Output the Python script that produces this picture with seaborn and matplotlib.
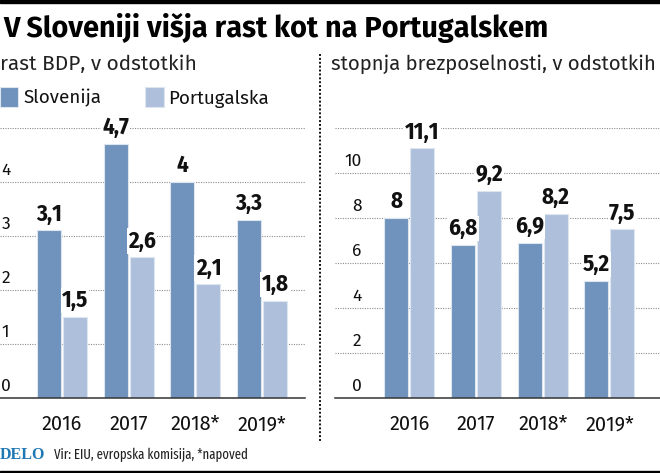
import logging
import matplotlib
matplotlib.use("Agg")
import matplotlib.pyplot as plt
from matplotlib.lines import Line2D
from matplotlib.patches import Rectangle, Patch
from matplotlib.transforms import ScaledTranslation
import pandas as pd
import seaborn as sns

logging.getLogger("matplotlib.font_manager").setLevel(logging.ERROR)

years = ["2016", "2017", "2018*", "2019*"]
countries = ["Slovenija", "Portugalska"]
gdp_slo = [3.1, 4.7, 4.0, 3.3]
gdp_por = [1.5, 2.6, 2.1, 1.8]
une_slo = [8.0, 6.8, 6.9, 5.2]
une_por = [11.1, 9.2, 8.2, 7.5]
gdp_lab_slo = ["3,1", "4,7", "4", "3,3"]
gdp_lab_por = ["1,5", "2,6", "2,1", "1,8"]
une_lab_slo = ["8", "6,8", "6,9", "5,2"]
une_lab_por = ["11,1", "9,2", "8,2", "7,5"]
title = "V Sloveniji višja rast kot na Portugalskem"
sub_left = "rast BDP, v odstotkih"
sub_right = "stopnja brezposelnosti, v odstotkih"
source = "Vir: EIU, evropska komisija, *napoved"
brand = "DELO"
gdp_ticks = [0, 1, 2, 3, 4, 5]
une_ticks = [0, 2, 4, 6, 8, 10, 12]

DARK, LIGHT, EDGE = "#6F93BC", "#ADBFDA", "#DCE5F0"
W, H = 660, 473
sns.set_theme(style="white")
BASE = ["Fira Sans", "Noto Sans", "DejaVu Sans"]
NARROW = ["Fira Sans Condensed", "Liberation Sans Narrow", "Noto Sans", "DejaVu Sans"]
XNARROW = ["Fira Sans Extra Condensed", "Fira Sans Condensed", "Noto Sans", "DejaVu Sans"]
plt.rcParams["font.family"] = BASE

fig = plt.figure(figsize=(W / 100, H / 100), dpi=100, facecolor="white")


def make_axes(x0, x1, top):
    return fig.add_axes([x0 / W, 1 - 398 / H, (x1 - x0) / W, (398 - top) / H])


def panel(ax, slo, por, lab_slo, lab_por, ticks, first_center, width_px, right_pad):
    df = pd.DataFrame({
        "year": years * 2,
        "country": [countries[0]] * 4 + [countries[1]] * 4,
        "value": list(slo) + list(por),
    })
    sns.barplot(data=df, x="year", y="value", hue="country", order=years,
                hue_order=countries, palette=[DARK, LIGHT], width=0.78, gap=0.08,
                saturation=1, edgecolor=EDGE, linewidth=0.8, ax=ax, legend=False, zorder=3)
    unit = 66.7
    ax.set_xlim(-first_center / unit, (width_px - first_center) / unit)
    ax.set_ylim(ticks[0], ticks[-1])
    ax.set_xlabel("")
    ax.set_ylabel("")
    sns.despine(ax=ax, left=True, top=True, right=True)
    ax.spines["bottom"].set_color("#333333")
    ax.spines["bottom"].set_linewidth(1.1)
    ax.spines["bottom"].set_zorder(5)
    ax.set_axisbelow(True)
    ax.yaxis.grid(True, color="#8c8c8c", linestyle=(0, (1, 1.2)), linewidth=0.8, zorder=0)
    ax.xaxis.grid(False)
    ax.set_yticks(ticks)
    ax.set_yticklabels([str(t) for t in ticks[:-1]] + [""])
    ax.tick_params(axis="x", length=0, pad=12, labelsize=14.3, labelcolor="#111111")
    ax.tick_params(axis="y", length=0, pad=-right_pad, labelsize=12.5, labelcolor="#111111")
    off = ScaledTranslation(0, 7 / 100, fig.dpi_scale_trans)
    for lab in ax.get_yticklabels():
        lab.set_ha("right" if right_pad > 5 else "left")
        lab.set_va("baseline")
        lab.set_transform(lab.get_transform() + off)
    for cont, labels in zip(ax.containers, (lab_slo, lab_por)):
        texts = ax.bar_label(cont, labels=labels, padding=3.5, fontsize=16.5, fontweight="bold",
                             family=NARROW, color="#111111", zorder=4)
        for t in texts:
            t.set_bbox(dict(facecolor="white", edgecolor="none", pad=0.8))


ax1 = make_axes(0, 305, 127.7)
panel(ax1, gdp_slo, gdp_por, gdp_lab_slo, gdp_lab_por, gdp_ticks, 62, 305, 1)
ax2 = make_axes(335, 660, 128)
panel(ax2, une_slo, une_por, une_lab_slo, une_lab_por, une_ticks, 74.3, 325, 19)

px = lambda x, y: (x / W, 1 - y / H)
fig.add_artist(Rectangle((0, 1 - 3 / H), 1, 3 / H, transform=fig.transFigure, color="black"))
fig.add_artist(Rectangle((0, 0), 1, 2 / H, transform=fig.transFigure, color="black"))
fig.add_artist(Line2D([320 / W, 320 / W], [1 - 54 / H, 1 - 441 / H], transform=fig.transFigure,
                      color="#111111", linestyle=(0, (1, 1)), linewidth=1.4))

fig.text(*px(3, 37), title, fontsize=20.8, fontweight="bold", color="#000000", va="baseline")
fig.text(*px(0, 70), sub_left, fontsize=15, color="#222222", va="baseline")
fig.text(*px(331, 70), sub_right, fontsize=14.7, color="#222222", va="baseline")
fig.text(*px(0, 459), brand, fontsize=11.5, fontweight="bold", family=["Liberation Serif"],
         color="#1F78B4", va="baseline")
fig.text(*px(54, 459), source, fontsize=10, family=XNARROW, color="#222222", va="baseline")

handles = [Patch(facecolor=DARK, edgecolor=EDGE, linewidth=0.8),
           Patch(facecolor=LIGHT, edgecolor=EDGE, linewidth=0.8)]
fig.legend(handles, countries, loc="upper left", bbox_to_anchor=px(0, 87.5), ncol=2, frameon=False,
           fontsize=13.5, handlelength=0.97, handleheight=1.25, handletextpad=0.27,
           columnspacing=2.35, borderpad=0, borderaxespad=0, labelcolor="#111111")

fig.savefig("out.png", dpi=100)
